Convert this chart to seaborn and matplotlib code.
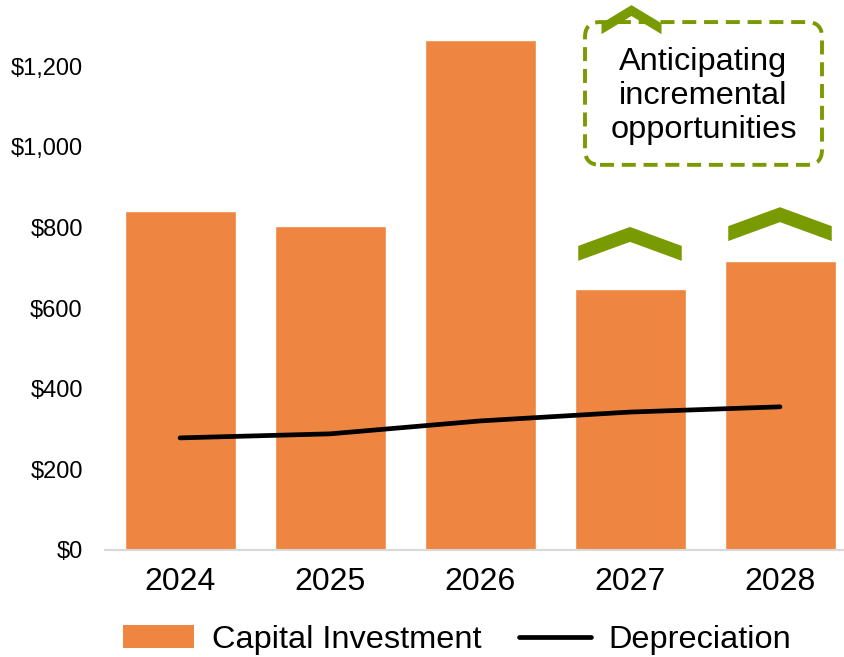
import pandas as pd
import matplotlib
matplotlib.use('Agg')
import matplotlib.pyplot as plt
import seaborn as sns
from matplotlib.patches import Polygon, FancyBboxPatch, Patch
from matplotlib.lines import Line2D
from matplotlib.ticker import FuncFormatter

years = ['2024', '2025', '2026', '2027', '2028']
capital_investment = [840, 803, 1264, 647, 716]
depreciation = [278, 288, 320, 342, 355]

# chevrons above the last two bars (bottom tip heights)
chevron_years = [3, 4]
chevron_base = [717, 766]

orange = '#EE8641'
green = '#7A9A01'

sns.set_style('white')
plt.rcParams['font.family'] = ['Liberation Sans', 'DejaVu Sans']
plt.rcParams['text.color'] = 'black'
plt.rcParams['xtick.color'] = 'black'
plt.rcParams['ytick.color'] = 'black'

df = pd.DataFrame({'year': years,
                   'capex': capital_investment,
                   'dep': depreciation})

fig = plt.figure(figsize=(8.44, 6.57), dpi=100)
ax = fig.add_axes([105 / 844, 107 / 657, 750 / 844, 524.3 / 657])

sns.barplot(data=df, x='year', y='capex', color=orange, width=0.74,
            saturation=1, ax=ax, zorder=2)
sns.pointplot(data=df, x='year', y='dep', color='black', markers='',
              linewidth=3.4, ax=ax, zorder=3)
for ln in ax.lines:
    ln.set_solid_capstyle('round')

ax.set_ylim(0, 1300)
ax.set_xlim(-0.5, 4.5)
ax.set_yticks(range(0, 1201, 200))
ax.yaxis.set_major_formatter(FuncFormatter(lambda v, p: f'${v:,.0f}'))
ax.set_xlabel('')
ax.set_ylabel('')
ax.tick_params(axis='x', length=0, pad=12, labelsize=23)
ax.tick_params(axis='y', length=0, pad=16, labelsize=17)
for s in ['top', 'right', 'left']:
    ax.spines[s].set_visible(False)
ax.spines['bottom'].set_color('#D9D9D9')
ax.spines['bottom'].set_linewidth(1.5)


def chevron(ax, xc, base, hw, rise, thick):
    pts = [(xc - hw, base + thick), (xc, base + thick + rise),
           (xc + hw, base + thick), (xc + hw, base),
           (xc, base + rise), (xc - hw, base)]
    ax.add_patch(Polygon(pts, closed=True, facecolor=green,
                         edgecolor='none', zorder=5, clip_on=False))


for i, b in zip(chevron_years, chevron_base):
    chevron(ax, i, b, 0.345, 47, 37)

# annotation box
box = FancyBboxPatch((2.70, 955), 1.58, 354,
                     boxstyle='round,pad=0,rounding_size=0.1',
                     mutation_aspect=372, fill=False, edgecolor=green,
                     linewidth=2.8, linestyle=(0, (3.6, 2)),
                     zorder=4, clip_on=False)
ax.add_patch(box)
chevron(ax, 3.01, 1279, 0.2, 45, 27)
ax.text(3.49, 1125, 'Anticipating\nincremental\nopportunities',
        ha='center', va='center', fontsize=23.4, linespacing=1.17,
        zorder=6, clip_on=False)

handles = [Patch(facecolor=orange, edgecolor='none'),
           Line2D([0], [0], color='black', linewidth=3.4)]
fig.legend(handles, ['Capital Investment', 'Depreciation'],
           loc='center', bbox_to_anchor=(457 / 844, 17 / 657), ncol=2,
           frameon=False, fontsize=23.4, handlelength=2.2,
           handletextpad=0.55, columnspacing=1.15, borderaxespad=0)

fig.savefig('out.png', dpi=100)
